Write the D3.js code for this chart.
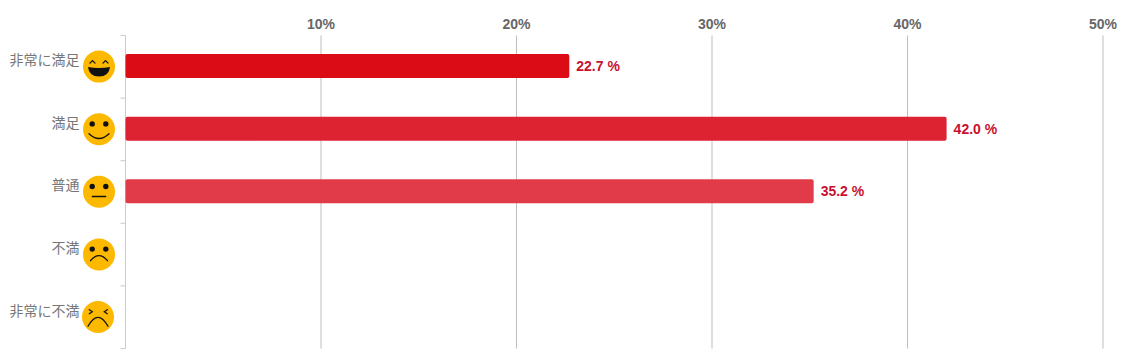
<!DOCTYPE html>
<html>
<head>
<meta charset="utf-8">
<script src="https://cdn.jsdelivr.net/npm/d3@7"></script>
<style>
  html, body { margin: 0; padding: 0; background: #fff; overflow: hidden; }
  svg { display: block; }
</style>
</head>
<body>
<svg id="chart"></svg>
<script>
const categories = ["非常に満足", "満足", "普通", "不満", "非常に不満"];
const values = [22.7, 42.0, 35.2, null, null];
const barColors = ["#db0c16", "#dd2331", "#e13b49", "#e55562", "#e96f7a"];
const faces = ["laugh", "smile", "neutral", "sad", "cry"];
const xTicks = [10, 20, 30, 40, 50];

const margin = { top: 35.5, right: 21, bottom: 15, left: 125.5 },
      width = 1124 - margin.left - margin.right,
      height = 363 - margin.top - margin.bottom;

const svg = d3.select("#chart")
    .attr("width", 1124)
    .attr("height", 363)
    .append("g")
    .attr("transform", `translate(${margin.left},${margin.top})`);

const xScale = d3.scaleLinear().domain([0, 50]).range([0, 977.5]);
const yScale = d3.scaleBand().domain(categories).range([-0.7, 312.3]).paddingInner(0.617).paddingOuter(0.3085);
const tickY = d3.scalePoint().domain(d3.range(categories.length + 1)).range([0, 313]);

// grid lines
svg.selectAll(".grid")
    .data(xTicks)
    .enter().append("line")
    .attr("class", "grid")
    .attr("x1", d => xScale(d))
    .attr("x2", d => xScale(d))
    .attr("y1", 0)
    .attr("y2", 313)
    .attr("stroke", "#bdbdbd")
    .attr("stroke-width", 1);

// top axis labels
svg.selectAll(".xlabel")
    .data(xTicks)
    .enter().append("text")
    .attr("class", "xlabel")
    .attr("x", d => xScale(d))
    .attr("y", -6.5)
    .attr("text-anchor", "middle")
    .style("font-family", "'Liberation Sans', sans-serif")
    .style("font-size", "14px")
    .style("font-weight", "bold")
    .style("fill", "#666")
    .text(d => d + "%");

// y axis line and ticks
svg.append("line")
    .attr("x1", 0).attr("x2", 0)
    .attr("y1", 0).attr("y2", 313)
    .attr("stroke", "#c5ccd3");

svg.selectAll(".ytick")
    .data(tickY.domain())
    .enter().append("line")
    .attr("class", "ytick")
    .attr("x1", -5)
    .attr("x2", 0)
    .attr("y1", d => tickY(d))
    .attr("y2", d => tickY(d))
    .attr("stroke", "#c5ccd3");

const rows = categories.map((c, i) => ({ cat: c, value: values[i], color: barColors[i], face: faces[i] }));

svg.selectAll(".bar")
    .data(rows.filter(d => d.value != null))
    .enter().append("rect")
    .attr("class", "bar")
    .attr("x", 0)
    .attr("y", d => yScale(d.cat))
    .attr("width", d => xScale(d.value))
    .attr("height", yScale.bandwidth())
    .attr("rx", 2)
    .attr("fill", d => d.color);

svg.selectAll(".label")
    .data(rows.filter(d => d.value != null))
    .enter().append("text")
    .attr("class", "label")
    .attr("x", d => xScale(d.value) + 7)
    .attr("y", d => yScale(d.cat) + yScale.bandwidth() / 2 + 5)
    .style("font-family", "'Liberation Sans', sans-serif")
    .style("font-size", "14px")
    .style("font-weight", "bold")
    .style("fill", "#c8102e")
    .text(d => d3.format(".1f")(d.value) + " %");

// category names
svg.selectAll(".cat")
    .data(rows)
    .enter().append("text")
    .attr("class", "cat")
    .attr("x", -46)
    .attr("y", d => yScale(d.cat) + yScale.bandwidth() / 2 - 1)
    .attr("text-anchor", "end")
    .style("font-family", "'Noto Sans CJK JP', sans-serif")
    .style("font-size", "14px")
    .style("fill", "#777")
    .text(d => d.cat);

// smiley icons
const face = svg.selectAll(".face")
    .data(rows)
    .enter().append("g")
    .attr("class", "face")
    .attr("transform", d => `translate(${d.face === "cry" ? -27.5 : -26.5},${yScale(d.cat) + yScale.bandwidth() / 2 + 0.5})`);

face.append("circle").attr("r", 16).attr("fill", "#fdb900");

const stroke = sel => sel.attr("fill", "none").attr("stroke", "#111").attr("stroke-width", 1.3).attr("stroke-linecap", "round");

face.filter(d => ["smile", "neutral", "sad"].includes(d.face)).each(function() {
    d3.select(this).selectAll(".eye").data([-6.8, 6.8]).enter().append("circle")
        .attr("class", "eye").attr("cx", d => d).attr("cy", -5.3).attr("r", 2.7).attr("fill", "#111");
});

face.filter(d => d.face === "laugh").each(function() {
    const g = d3.select(this);
    g.append("path").attr("d", "M-9,-3.5 L-6.5,-6 L-4,-3.5 M4,-3.5 L6.5,-6 L9,-3.5").call(stroke);
    g.append("path").attr("d", "M-11,0.5 Q0,2.5 11,0.5 Q10,10 0,10 Q-10,10 -11,0.5 Z").attr("fill", "#111");
});
face.filter(d => d.face === "smile").append("path").attr("d", "M-10,4.5 Q0,14 10,4.5").call(stroke);
face.filter(d => d.face === "neutral").append("path").attr("d", "M-6.7,4.7 L6.7,4.7").call(stroke);
face.filter(d => d.face === "sad").append("path").attr("d", "M-8.5,6.3 Q0,-3.7 8.5,6.3").call(stroke);
face.filter(d => d.face === "cry").each(function() {
    const g = d3.select(this);
    g.append("path").attr("d", "M-8.7,-7.3 L-5.7,-5.3 L-8.7,-3.3 M9.3,-7.3 L6.3,-5.3 L9.3,-3.3").call(stroke);
    g.append("path").attr("d", "M-10,9.3 Q0,-8.7 10,9.3").call(stroke);
});
</script>
</body>
</html>
